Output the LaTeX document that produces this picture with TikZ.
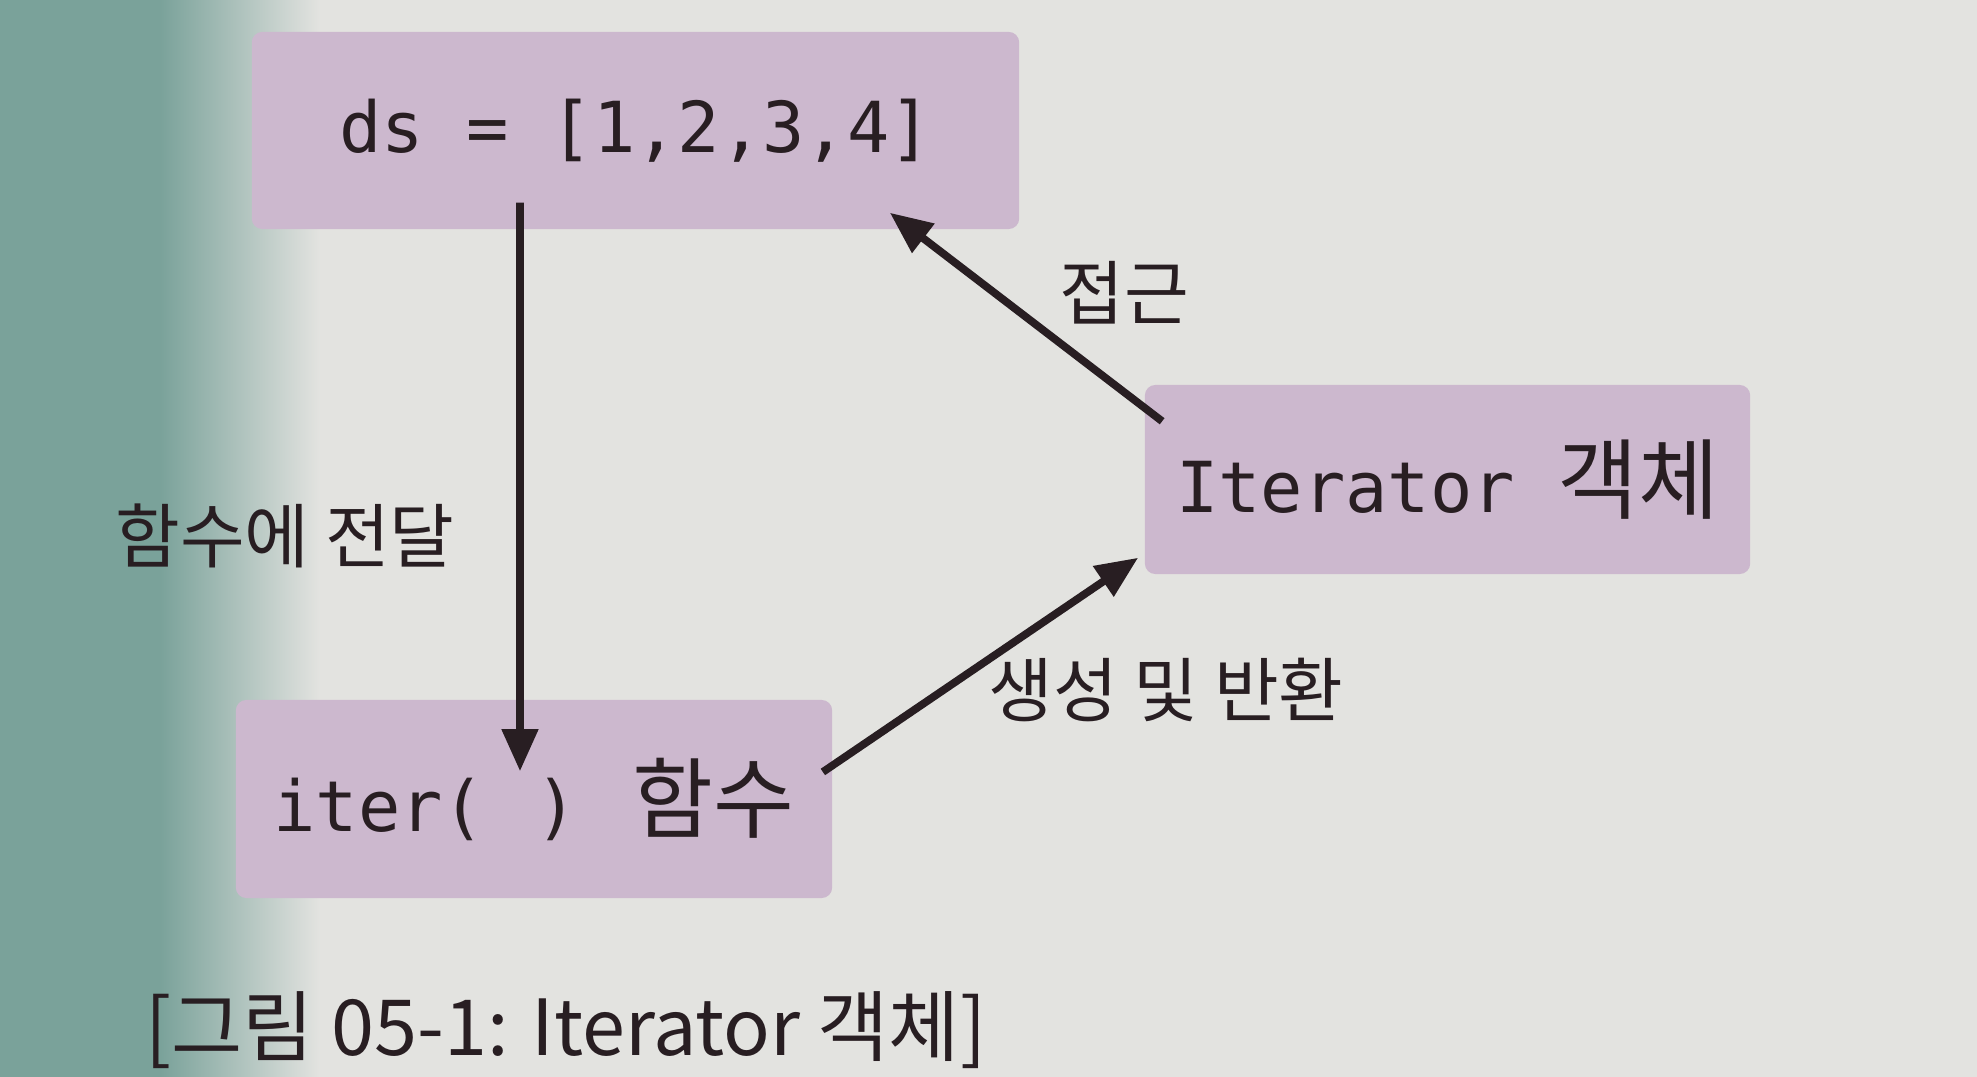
\documentclass[tikz,border=0pt]{standalone}
\usepackage{fontspec}
\setmainfont{Noto Sans CJK KR}
\newfontfamily\codefont{DejaVu Sans Mono}
\usetikzlibrary{arrows.meta}
\definecolor{paper}{RGB}{227,227,224}
\definecolor{shadow}{RGB}{122,162,154}
\definecolor{boxfill}{RGB}{204,184,206}
\definecolor{ink}{RGB}{40,30,34}
\newcommand{\kr}[1]{{\fontsize{25}{28}\selectfont #1}}
\begin{document}
\begin{tikzpicture}[x=0.01cm, y=-0.01cm,
    box/.style={fill=boxfill, rounded corners=3pt, inner sep=0pt, text=ink,
      font=\fontsize{20}{24}\selectfont},
    lbl/.style={text=ink, inner sep=0pt, font=\fontsize{20}{24}\selectfont},
    link/.style={draw=ink, line width=2.2pt, -{Triangle[length=12pt,width=10pt]}}]
  % paper and the shadow on its left
  \fill[paper] (0,0) rectangle (1977,1077);
  \fill[shadow] (0,0) rectangle (160,1077);
  \shade[left color=shadow, right color=paper] (160,0) rectangle (320,1077);
  \draw
    (635.5,130.5) node[box, minimum width=7.67cm, minimum height=1.97cm] (ds){\codefont ds = [1,2,3,4]}
    (534,799) node[box, minimum width=5.96cm, minimum height=1.98cm] (iter){{\codefont iter(\hspace{0.5cm})}\hspace{0.55cm}\kr{함수}}
    (1447.5,479.5) node[box, minimum width=6.05cm, minimum height=1.89cm] (obj){{\codefont Iterator~}\kr{객체}};
  \begin{scope}[link]
    \draw ([xshift=-1.155cm, yshift=0.27cm]ds.south) to ([xshift=-0.14cm, yshift=-0.72cm]iter.north);
    \draw ([xshift=-0.1cm, yshift=0.27cm]iter.east) to ([xshift=-0.06cm, yshift=0.17cm]obj.south west);
    \draw ([xshift=0.18cm, yshift=-0.37cm]obj.north west) to ([xshift=-1.3cm, yshift=0.17cm]ds.south east);
  \end{scope}
  \node[lbl] (pass) at (285,536) {함수에 전달};
  \node[lbl] (access) at (1124,293) {접근};
  \node[lbl] (make) at (1166,690) {생성 및 반환};
  \node[lbl, font=\fontsize{22}{26}\selectfont] (caption) at (566,1030) {[그림 05-1: Iterator 객체]};
\end{tikzpicture}
\end{document}
